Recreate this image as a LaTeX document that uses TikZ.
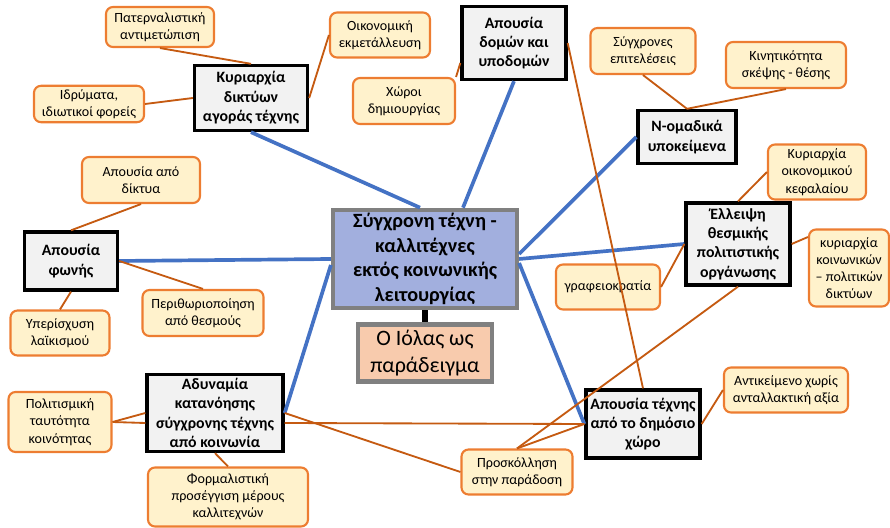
\documentclass[tikz,border=0pt]{standalone}
\usepackage{fontspec}
\setmainfont{Carlito}
\usepackage{xcolor}
\usepackage{tikz}
\usetikzlibrary{positioning,calc}

\definecolor{linkblue}{RGB}{68,114,196}
\definecolor{linkorange}{RGB}{197,90,17}
\definecolor{leafdraw}{RGB}{237,125,49}
\definecolor{leaffill}{RGB}{255,242,204}
\definecolor{mainfill}{RGB}{242,242,242}
\definecolor{corefill}{RGB}{162,175,222}
\definecolor{casefill}{RGB}{248,203,173}

\begin{document}
\begin{tikzpicture}[
    mainbox/.style={rectangle, draw=black, line width=1.9pt, fill=mainfill, align=center,
      inner sep=2pt, font=\fontsize{9}{11}\selectfont\bfseries},
    leafbox/.style={rectangle, rounded corners=4pt, draw=leafdraw, line width=1.2pt, fill=leaffill,
      align=center, inner sep=2pt, font=\fontsize{8}{9.8}\selectfont},
    corebox/.style={rectangle, draw=gray, line width=2.4pt, fill=corefill, align=center,
      inner sep=2pt, font=\fontsize{11.5}{14}\selectfont\bfseries},
    casebox/.style={rectangle, draw=gray, line width=2.4pt, fill=casefill, align=center,
      inner sep=2pt, font=\fontsize{12.5}{15}\selectfont},
    link/.style={draw=linkblue, line width=2.1pt},
    sublink/.style={draw=linkorange, line width=1.05pt}
  ]
    \useasboundingbox (0,0) rectangle (17.8,10.56);

    % centre
    \node[corebox, minimum width=3.68cm, minimum height=1.96cm] (ctr) at (8.50,5.38)
      {Σύγχρονη τέχνη -\\καλλιτέχνες\\εκτός κοινωνικής\\λειτουργίας};
    \node[casebox, minimum width=2.68cm, minimum height=1.14cm] (iol) at (8.50,3.50)
      {Ο Ιόλας ως\\παράδειγμα};

    % main topics
    \node[mainbox, minimum width=2.26cm, minimum height=1.30cm] (kd) at (5.02,8.60)
      {Κυριαρχία\\δικτύων\\αγοράς τέχνης};
    \node[mainbox, minimum width=2.08cm, minimum height=1.46cm] (ad) at (10.28,9.70)
      {Απουσία\\δομών και\\υποδομών};
    \node[mainbox, minimum width=1.96cm, minimum height=1.06cm] (nom) at (13.74,7.82)
      {Ν-ομαδικά\\υποκείμενα};
    \node[mainbox, minimum width=2.08cm, minimum height=1.64cm] (ell) at (14.76,5.68)
      {Έλλειψη\\θεσμικής\\πολιτιστικής\\οργάνωσης};
    \node[mainbox, minimum width=1.86cm, minimum height=1.16cm] (af) at (1.42,5.34)
      {Απουσία\\φωνής};
    \node[mainbox, minimum width=2.72cm, minimum height=1.54cm] (ady) at (4.30,2.30)
      {Αδυναμία\\κατανόησης\\σύγχρονης τέχνης\\από κοινωνία};
    \node[mainbox, minimum width=2.28cm, minimum height=1.36cm] (atd) at (12.86,2.08)
      {Απουσία τέχνης\\από το δημόσιο\\χώρο};

    % sub topics
    \node[leafbox, minimum width=2.16cm, minimum height=0.80cm] (pat) at (3.20,10.02)
      {Πατερναλιστική\\αντιμετώπιση};
    \node[leafbox, minimum width=2.00cm, minimum height=0.90cm] (oik) at (7.60,9.86)
      {Οικονομική\\εκμετάλλευση};
    \node[leafbox, minimum width=2.20cm, minimum height=0.68cm] (idr) at (1.78,8.48)
      {Ιδρύματα,\\ιδιωτικοί φορείς};
    \node[leafbox, minimum width=2.04cm, minimum height=0.92cm] (xor) at (8.08,8.54)
      {Χώροι\\δημιουργίας};
    \node[leafbox, minimum width=2.10cm, minimum height=0.92cm] (syg) at (12.86,9.54)
      {Σύγχρονες\\επιτελέσεις};
    \node[leafbox, minimum width=2.40cm, minimum height=0.92cm] (kin) at (15.72,9.26)
      {Κινητικότητα\\σκέψης - θέσης};
    \node[leafbox, minimum width=1.96cm, minimum height=1.10cm] (kok) at (16.34,7.12)
      {Κυριαρχία\\οικονομικού\\κεφαλαίου};
    \node[leafbox, minimum width=1.60cm, minimum height=1.54cm] (kkp) at (16.98,5.20)
      {κυριαρχία\\κοινωνικών\\– πολιτικών\\δικτύων};
    \node[leafbox, minimum width=2.08cm, minimum height=0.90cm] (gra) at (12.16,4.82)
      {γραφειοκρατία};
    \node[leafbox, minimum width=2.36cm, minimum height=0.92cm] (aad) at (2.82,6.96)
      {Απουσία από\\δίκτυα};
    \node[leafbox, minimum width=2.42cm, minimum height=0.92cm] (per) at (4.06,4.30)
      {Περιθωριοποίηση\\από θεσμούς};
    \node[leafbox, minimum width=1.98cm, minimum height=0.90cm] (yper) at (1.20,3.90)
      {Υπερίσχυση\\λαϊκισμού};
    \node[leafbox, minimum width=2.06cm, minimum height=1.20cm] (pol) at (1.20,2.12)
      {Πολιτισμική\\ταυτότητα\\κοινότητας};
    \node[leafbox, minimum width=3.20cm, minimum height=1.18cm] (form) at (4.56,0.62)
      {Φορμαλιστική\\προσέγγιση μέρους\\καλλιτεχνών};
    \node[leafbox, minimum width=2.22cm, minimum height=0.90cm] (pro) at (10.34,1.12)
      {Προσκόλληση\\στην παράδοση};
    \node[leafbox, minimum width=2.48cm, minimum height=0.90cm] (ant) at (15.72,2.76)
      {Αντικείμενο χωρίς\\ανταλλακτική αξία};

    % links from the centre
    \draw[black, line width=3.4pt] (ctr.south) -- (iol.north);
    \draw[link] (kd.south) -- ([xshift=-0.1cm]ctr.north);
    \draw[link] (ad.south) -- ([xshift=0.76cm]ctr.north);
    \draw[link] (af.east) -- (ctr.west);
    \draw[link] (ady.east) -- ([yshift=-0.12cm]ctr.west);
    \draw[link] ([yshift=0.1cm]ctr.east) -- (nom.west);
    \draw[link] (ctr.east) -- (ell.west);
    \draw[link] ([yshift=-0.08cm]ctr.east) -- (atd.west);

    % links to sub topics
    \draw[sublink] (pat.south) -- (kd.north);
    \draw[sublink] (oik.west) -- (kd.east);
    \draw[sublink] (idr.east) -- (kd.west);
    \draw[sublink] (xor.north east) -- ([yshift=-0.4cm]ad.west);
    \draw[sublink] (ad.east) -- (atd.north);
    \draw[sublink] (syg.south) -- (nom.north);
    \draw[sublink] (kin.south) -- (nom.north);
    \draw[sublink] (kok.west) -- (ell.north);
    \draw[sublink] (ell.east) -- ([yshift=0.62cm]kkp.west);
    \draw[sublink] (gra.east) -- (ell.west);
    \draw[sublink] (ell.south) -- (pro.north);
    \draw[sublink] (pro.north) -- (atd.west);
    \draw[sublink] ([yshift=-0.2cm]ady.east) -- (atd.west);
    \draw[sublink] (ady.east) -- (pro.west);
    \draw[sublink] (pol.east) -- (ady.west);
    \draw[sublink] (pol.east) -- ([yshift=-0.2cm]ady.west);
    \draw[sublink] (form.north) -- (ady.south);
    \draw[sublink] (aad.south) -- (af.north);
    \draw[sublink] (af.east) -- (per.north);
    \draw[sublink] (yper.north) -- (af.south);
    \draw[sublink] (ant.west) -- (atd.east);
  \end{tikzpicture}
\end{document}
